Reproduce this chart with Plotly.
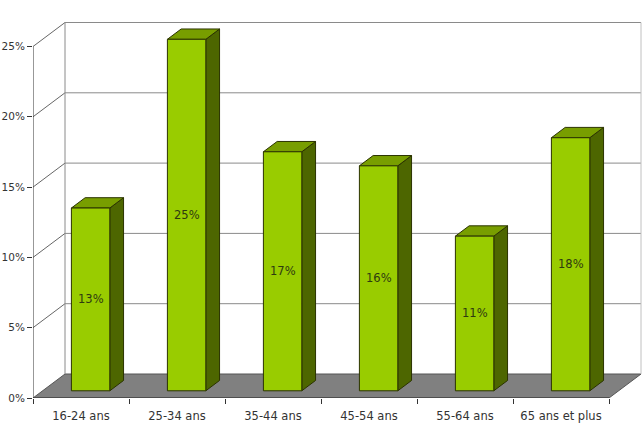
import plotly.graph_objects as go

categories = ["16-24 ans", "25-34 ans", "35-44 ans", "45-54 ans", "55-64 ans", "65 ans et plus"]
values = [13, 25, 17, 16, 11, 18]
y_ticks = [0, 5, 10, 15, 20, 25]
y_tick_labels = [f"{v}%" for v in y_ticks]

# layout / projection constants
W, H = 643, 436
ML, MB = 33, 38
PX_X = 96.0          # pixels per category
PX_Y = 14.06         # pixels per percent
DX = 32 / PX_X       # depth offset in x (category units)
DY = 24 / PX_Y       # depth offset in y (percent units)
D1, D2 = 0.30, 0.73  # bar depth start / end (fraction of depth)
BW = 0.4             # bar width

FRONT = "#99CC00"
TOP = "#789E00"
SIDE = "#4D6600"
EDGE = "#2B3300"
GRID = "#8A8A8A"
TXT = "#333333"
FONT = "DejaVu Sans"

fig = go.Figure()

def poly(xs, ys, fill, line="rgba(0,0,0,0)", lw=1):
    fig.add_trace(go.Scatter(x=xs + [xs[0]], y=ys + [ys[0]], mode="lines",
                             fill="toself", fillcolor=fill,
                             line=dict(color=line, width=lw),
                             hoverinfo="skip", showlegend=False))

def seg(xs, ys, color, lw=1):
    fig.add_trace(go.Scatter(x=xs, y=ys, mode="lines",
                             line=dict(color=color, width=lw),
                             hoverinfo="skip", showlegend=False))

n = len(categories)
ymax = y_ticks[-1]

# floor
poly([0, n, n + DX, DX], [0, 0, DY, DY], "#808080", "#555555", 1)

# back wall gridlines and left wall diagonals
for v in y_ticks[1:]:
    seg([DX, n + DX], [v + DY, v + DY], GRID)
for v in y_ticks[1:]:
    seg([0, DX], [v, v + DY], "#666666")
seg([DX, DX], [DY, ymax + DY], GRID)
seg([n + DX, n + DX], [DY, ymax + DY], "#C0C0C0")

# axis lines
seg([0, 0], [0, ymax], "#333333")
seg([0, n], [0, 0], "#333333")

# bars
for i, v in enumerate(values):
    x0 = i + 0.5 - BW / 2
    x1 = i + 0.5 + BW / 2
    fx0, fx1 = x0 + D1 * DX, x1 + D1 * DX
    bx0, bx1 = x0 + D2 * DX, x1 + D2 * DX
    fy, by = D1 * DY, D2 * DY
    # side
    poly([fx1, bx1, bx1, fx1], [fy, by, v + by, v + fy], SIDE, EDGE)
    # top
    poly([fx0, fx1, bx1, bx0], [v + fy, v + fy, v + by, v + by], TOP, EDGE)
    # front
    poly([fx0, fx1, fx1, fx0], [fy, fy, v + fy, v + fy], FRONT, EDGE)
    fig.add_annotation(x=(fx0 + fx1) / 2, y=v / 2 + fy, text=f"{v}%",
                       showarrow=False, font=dict(family=FONT, size=11.5, color="#2E3A10"))

plot_w = W - ML
plot_h = H - MB
fig.update_layout(
    width=W, height=H, autosize=False,
    margin=dict(l=ML, r=0, t=0, b=MB, pad=0),
    paper_bgcolor="white", plot_bgcolor="white",
    showlegend=False,
    font=dict(family=FONT, size=11.5, color=TXT),
    xaxis=dict(range=[0, plot_w / PX_X], showgrid=False, zeroline=False, showline=False,
               automargin=False,
               tickmode="array", tickvals=[i + 0.5 for i in range(n)], ticktext=categories,
               ticks="outside", ticklen=7, tickcolor="rgba(0,0,0,0)",
               minor=dict(tickmode="array", tickvals=list(range(n + 1)), ticks="outside",
                          ticklen=5, tickcolor="#333333", showgrid=False),
               fixedrange=True),
    yaxis=dict(range=[0, plot_h / PX_Y], showgrid=False, zeroline=False, showline=False,
               automargin=False,
               tickmode="array", tickvals=y_ticks, ticktext=y_tick_labels,
               tickfont=dict(family=FONT, size=10.5, color=TXT),
               ticks="outside", ticklen=5, tickcolor="#333333", fixedrange=True),
)

fig.write_html("out.html")
